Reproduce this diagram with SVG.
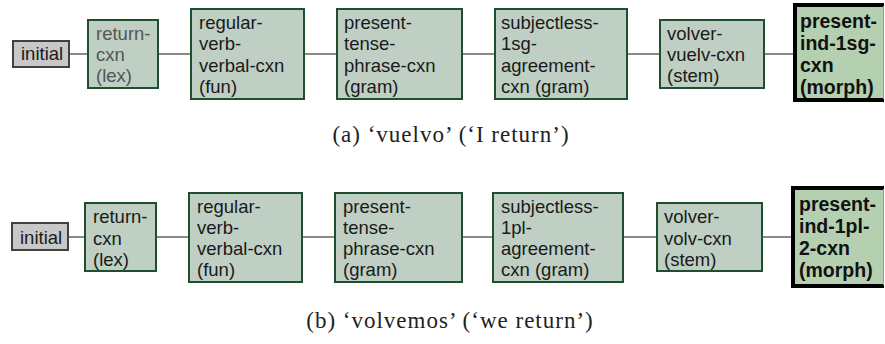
<svg xmlns="http://www.w3.org/2000/svg" width="885" height="344" viewBox="0 0 885 344">
<style>
.bg{fill:#ffffff}
.init{fill:#c8c8c8;stroke:#404040;stroke-width:2}
.cxn{fill:#bfcfc4;stroke:#1f4f2e;stroke-width:2}
.fin{fill:#b5d0b0}
.finb{fill:none;stroke:#000;stroke-width:4}
.fine{stroke:#9a9a9a;stroke-width:1}
.t{font-family:"Liberation Sans",Arial,sans-serif;font-size:18.5px;fill:#1a1a1a}
.tg{fill:#555555}
.tb{font-family:"Liberation Sans",Arial,sans-serif;font-size:19.5px;font-weight:bold;fill:#111}
.cap{font-family:"Liberation Serif","Times New Roman",serif;font-size:23px;fill:#222;letter-spacing:1px}
.con line{stroke:#8a8a8a;stroke-width:2}
</style>
<rect class="bg" x="0" y="0" width="885" height="344"/>
<g id="connectors" class="con">
<line x1="70" y1="54" x2="87" y2="54"/>
<line x1="159" y1="54" x2="190" y2="54"/>
<line x1="305" y1="54" x2="336" y2="54"/>
<line x1="463" y1="54" x2="494" y2="54"/>
<line x1="628" y1="54" x2="659" y2="54"/>
<line x1="765" y1="54" x2="794" y2="54"/>
<line x1="69" y1="237" x2="84" y2="237"/>
<line x1="157" y1="237" x2="188" y2="237"/>
<line x1="303" y1="237" x2="334" y2="237"/>
<line x1="463" y1="237" x2="492" y2="237"/>
<line x1="624" y1="237" x2="656" y2="237"/>
<line x1="762" y1="237" x2="791" y2="237"/>
</g>
<g id="a-initial"><rect class="init" x="13" y="41" width="56" height="26"/><text class="t" x="21" y="60">initial</text></g>
<g id="a-return"><rect class="cxn" x="88" y="20" width="70" height="68"/><text class="t tg"><tspan x="96" y="39.7">return-</tspan><tspan x="96" y="61">cxn</tspan><tspan x="96" y="82.3">(lex)</tspan></text></g>
<g id="a-regular"><rect class="cxn" x="191" y="9" width="113" height="90"/><text class="t"><tspan x="199" y="29">regular-</tspan><tspan x="199" y="50.3">verb-</tspan><tspan x="199" y="71.6">verbal-cxn</tspan><tspan x="199" y="92.9">(fun)</tspan></text></g>
<g id="a-present"><rect class="cxn" x="337" y="9" width="125" height="90"/><text class="t"><tspan x="344" y="29">present-</tspan><tspan x="344" y="50.3">tense-</tspan><tspan x="344" y="71.6">phrase-cxn</tspan><tspan x="344" y="92.9">(gram)</tspan></text></g>
<g id="a-subjectless"><rect class="cxn" x="495" y="9" width="132" height="90"/><text class="t"><tspan x="501" y="29">subjectless-</tspan><tspan x="501" y="50.3">1sg-</tspan><tspan x="501" y="71.6">agreement-</tspan><tspan x="501" y="92.9">cxn (gram)</tspan></text></g>
<g id="a-volver"><rect class="cxn" x="660" y="20" width="104" height="68"/><text class="t"><tspan x="667" y="39.7">volver-</tspan><tspan x="667" y="61">vuelv-cxn</tspan><tspan x="667" y="82.3">(stem)</tspan></text></g>
<g id="a-final"><rect class="fin" x="793" y="3" width="91" height="99"/><path class="finb" d="M884,5 H795 V100 H884"/><line class="fine" x1="883.5" y1="6" x2="883.5" y2="99"/><text class="tb"><tspan x="800" y="28">present-</tspan><tspan x="800" y="50">ind-1sg-</tspan><tspan x="800" y="72">cxn</tspan><tspan x="800" y="94">(morph)</tspan></text></g>
<text class="cap" x="451" y="142" text-anchor="middle">(a) ‘vuelvo’ (‘I return’)</text>
<g id="b-initial"><rect class="init" x="12" y="223" width="56" height="27"/><text class="t" x="20" y="243.5">initial</text></g>
<g id="b-return"><rect class="cxn" x="85" y="203" width="71" height="68"/><text class="t"><tspan x="93" y="223.2">return-</tspan><tspan x="93" y="244.5">cxn</tspan><tspan x="93" y="265.8">(lex)</tspan></text></g>
<g id="b-regular"><rect class="cxn" x="189" y="193" width="113" height="89"/><text class="t"><tspan x="197" y="212.5">regular-</tspan><tspan x="197" y="233.8">verb-</tspan><tspan x="197" y="255.1">verbal-cxn</tspan><tspan x="197" y="276.4">(fun)</tspan></text></g>
<g id="b-present"><rect class="cxn" x="335" y="193" width="127" height="89"/><text class="t"><tspan x="343" y="212.5">present-</tspan><tspan x="343" y="233.8">tense-</tspan><tspan x="343" y="255.1">phrase-cxn</tspan><tspan x="343" y="276.4">(gram)</tspan></text></g>
<g id="b-subjectless"><rect class="cxn" x="493" y="193" width="130" height="89"/><text class="t"><tspan x="501" y="212.5">subjectless-</tspan><tspan x="501" y="233.8">1pl-</tspan><tspan x="501" y="255.1">agreement-</tspan><tspan x="501" y="276.4">cxn (gram)</tspan></text></g>
<g id="b-volver"><rect class="cxn" x="657" y="203" width="105" height="68"/><text class="t"><tspan x="664" y="223.2">volver-</tspan><tspan x="664" y="244.5">volv-cxn</tspan><tspan x="664" y="265.8">(stem)</tspan></text></g>
<g id="b-final"><rect class="fin" x="791" y="186" width="93" height="102"/><path class="finb" d="M884,188 H793 V286 H884"/><line class="fine" x1="883.5" y1="189" x2="883.5" y2="285"/><text class="tb"><tspan x="799" y="210.5">present-</tspan><tspan x="799" y="232.5">ind-1pl-</tspan><tspan x="799" y="254.5">2-cxn</tspan><tspan x="799" y="276.5">(morph)</tspan></text></g>
<text class="cap" x="450" y="328" text-anchor="middle">(b) ‘volvemos’ (‘we return’)</text>
</svg>
